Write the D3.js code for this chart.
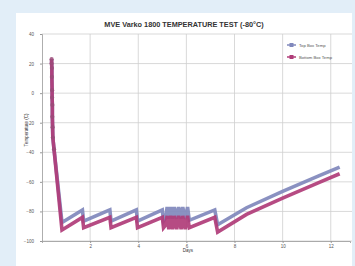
<!DOCTYPE html>
<html><head><meta charset="utf-8">
<script src="https://cdn.jsdelivr.net/npm/d3@7"></script>
<style>body{margin:0;background:#e2eef8;}svg{display:block;font-family:"Liberation Sans",Arial,sans-serif;}</style>
</head><body>
<svg id="c" width="355" height="266"></svg>
<script>
const title = "MVE Varko 1800 TEMPERATURE TEST (-80°C)";
const seriesNames = ["Top Box Temp", "Bottom Box Temp"];
const xTicks = [2, 4, 6, 8, 10, 12];
const yTicks = [40, 20, 0, -20, -40, -60, -80, -100];
// [day, temperature]
const startDrop = [[0.40,23],[0.40,20],[0.41,17],[0.41,11],[0.42,2],[0.42,-3],[0.43,-8],[0.43,-16],[0.44,-23],[0.45,-30],[0.50,-38]];
const topTemp = [[0.83,-87.5],[1.68,-79],[1.73,-86.5],[2.82,-79],[2.87,-86.5],[3.92,-79],[3.97,-86.5],[5.0,-79],[5.05,-86.5],
  [5.15,-84],[5.2,-77],[5.27,-85],[5.35,-77],[5.43,-85],[5.5,-77],[5.6,-85],[5.68,-77],[5.78,-85],[5.85,-77],[5.95,-85],[6.05,-77],[6.12,-86],
  [7.18,-79],[7.3,-89],[8.5,-77.5],[10,-66.5],[11.5,-56],[12.37,-50]];
const bottomTemp = [[0.83,-92.5],[1.68,-84],[1.73,-91],[2.82,-84],[2.87,-91],[3.92,-84],[3.97,-91],[5.0,-84],[5.05,-91],
  [5.15,-89],[5.2,-83],[5.27,-92],[5.35,-83],[5.43,-92],[5.5,-83],[5.6,-92],[5.68,-83],[5.78,-92],[5.85,-83],[5.95,-92],[6.05,-83],[6.12,-91],
  [7.18,-84],[7.3,-94],[8.5,-82],[10,-71],[11.5,-60.5],[12.37,-54.5]];
const colors = ["#8088bc", "#b03c78"];

const svg = d3.select("#c");
svg.append("rect").attr("x",16).attr("y",13).attr("width",336).attr("height",253).attr("fill","#fff");

const x = d3.scaleLinear().domain([0, 12.8]).range([42, 350]);
const y = d3.scaleLinear().domain([-100, 40]).range([241, 34]);

// gridlines
svg.append("g").selectAll("line").data(yTicks).join("line")
  .attr("x1",42).attr("x2",352).attr("y1",d=>y(d)).attr("y2",d=>y(d))
  .attr("stroke","#cfcfcf").attr("stroke-width",0.8);
svg.append("g").selectAll("line").data(xTicks).join("line")
  .attr("x1",d=>x(d)).attr("x2",d=>x(d)).attr("y1",34).attr("y2",241)
  .attr("stroke","#cfcfcf").attr("stroke-width",0.8);

// axes
const ya = svg.append("g").attr("transform","translate(42,0)")
  .call(d3.axisLeft(y).tickValues(yTicks).tickSize(2).tickPadding(6));
const xa = svg.append("g").attr("transform","translate(0,241)")
  .call(d3.axisBottom(x).tickValues(xTicks).tickSize(2).tickPadding(2));
[ya, xa].forEach(a=>{
  a.select(".domain").attr("stroke","#999").attr("stroke-width",0.8);
  a.selectAll(".tick line").attr("stroke","#999");
  a.selectAll("text").attr("font-size",4.5).attr("fill","#555");
});

// title
svg.append("text").attr("x",184).attr("y",27).attr("text-anchor","middle")
  .attr("font-size",7.3).attr("font-weight","bold").attr("fill","#333").text(title);
// axis titles
svg.append("text").attr("transform","translate(28,130) rotate(-90)").attr("text-anchor","middle")
  .attr("font-size",4.5).attr("fill","#333").text("Temperature (C)");
svg.append("text").attr("x",188).attr("y",252).attr("text-anchor","middle")
  .attr("font-size",4.5).attr("fill","#333").text("Days");

const line = d3.line().x(d=>x(d[0])).y(d=>y(d[1]));
[topTemp, bottomTemp].forEach((s,i)=>{
  svg.append("path").datum(startDrop.concat(s)).attr("d",line).attr("fill","none")
    .attr("stroke",colors[i]).attr("stroke-width",3.6).attr("stroke-linejoin","miter").attr("opacity",0.92);
});
svg.append("g").selectAll("circle").data(startDrop).join("circle")
  .attr("cx",d=>x(d[0])).attr("cy",d=>y(d[1])).attr("r",2.1).attr("fill","#9a4a78").attr("opacity",0.85);

// legend
const lg = svg.append("g").attr("transform","translate(287,45)");
seriesNames.forEach((n,i)=>{
  const g = lg.append("g").attr("transform",`translate(0,${i*12})`);
  g.append("line").attr("x1",0).attr("x2",9).attr("stroke",colors[i]).attr("stroke-width",1.5);
  g.append("rect").attr("x",2.5).attr("y",-2).attr("width",4).attr("height",4).attr("fill",colors[i]);
  g.append("text").attr("x",12).attr("y",1.5).attr("font-size",4.2).attr("fill","#555").text(n);
});
</script>
</body></html>
